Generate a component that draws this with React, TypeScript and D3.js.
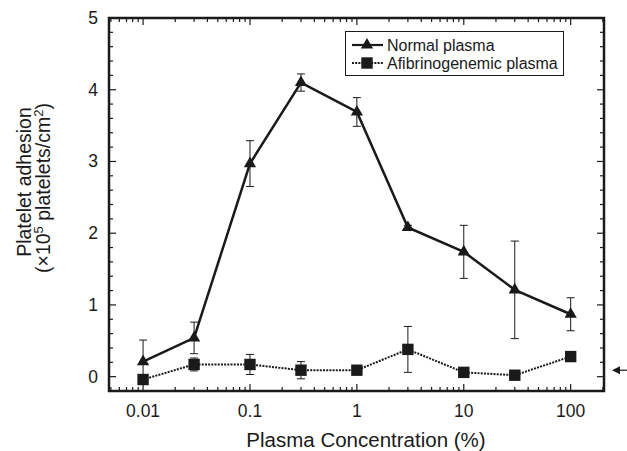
import { useEffect, useRef } from 'react';
import * as d3 from 'd3';

const concentrations = [0.01, 0.03, 0.1, 0.3, 1, 3, 10, 30, 100];
const normalMean = [0.21, 0.54, 2.97, 4.1, 3.69, 2.08, 1.74, 1.21, 0.87];
const normalErr = [0.3, 0.22, 0.32, 0.12, 0.2, 0.03, 0.37, 0.68, 0.23];
const afibMean = [-0.04, 0.17, 0.17, 0.09, 0.09, 0.38, 0.06, 0.02, 0.28];
const afibErr = [0, 0.09, 0.14, 0.12, 0.03, 0.32, 0, 0, 0];
const xTickValues = [0.01, 0.1, 1, 10, 100];
const xTickLabels = ['0.01', '0.1', '1', '10', '100'];
const yTickValues = [0, 1, 2, 3, 4, 5];
const seriesNames = ['Normal plasma', 'Afibrinogenemic plasma'];
const baselineArrow = 0.09;

const App = () => {
  const ref = useRef(null);

  useEffect(() => {
    if (!ref.current) return;
    const width = 627, height = 451;
    const left = 109, right = 604, top = 18, bottom = 391;
    const font = '"Liberation Sans", Arial, sans-serif';
    const ink = '#1a1a1a';

    d3.select(ref.current).selectAll('svg').remove();
    const svg = d3.select(ref.current)
      .append('svg')
      .attr('width', width)
      .attr('height', height)
      .style('position', 'absolute')
      .style('left', 0)
      .style('top', 0)
      .style('background', '#fff');

    const x = d3.scaleLog().domain([0.0048, 205]).range([left, right]);
    const y = d3.scaleLinear().domain([-0.2, 5]).range([bottom, top]);

    // minor / major ticks, drawn inward on all four sides
    const minorX = [];
    for (let e = -3; e <= 2; e++) {
      for (let m = 1; m < 10; m++) {
        const v = m * Math.pow(10, e);
        if (v >= x.domain()[0] && v <= x.domain()[1]) minorX.push(v);
      }
    }
    const ticks = svg.append('g').attr('stroke', ink);
    minorX.forEach(v => {
      const major = xTickValues.includes(v);
      const len = major ? 7 : 4;
      ticks.append('line').attr('x1', x(v)).attr('x2', x(v))
        .attr('y1', bottom).attr('y2', bottom - len).attr('stroke-width', 1.2);
      ticks.append('line').attr('x1', x(v)).attr('x2', x(v))
        .attr('y1', top).attr('y2', top + len).attr('stroke-width', 1.2);
    });
    d3.range(0, 51, 2).map(d => d / 10).forEach(v => {
      const major = Number.isInteger(v);
      const len = major ? 7 : 4;
      ticks.append('line').attr('x1', left).attr('x2', left + len)
        .attr('y1', y(v)).attr('y2', y(v)).attr('stroke-width', 1.2);
      ticks.append('line').attr('x1', right).attr('x2', right - len)
        .attr('y1', y(v)).attr('y2', y(v)).attr('stroke-width', 1.2);
    });

    svg.append('rect')
      .attr('x', left).attr('y', top)
      .attr('width', right - left).attr('height', bottom - top)
      .attr('fill', 'none').attr('stroke', ink).attr('stroke-width', 2.5);

    // tick labels
    svg.append('g').selectAll('text')
      .data(xTickValues)
      .join('text')
      .attr('x', d => x(d))
      .attr('y', 416.5)
      .attr('text-anchor', 'middle')
      .attr('font-family', font).attr('font-size', 17.5).attr('fill', ink)
      .text((d, i) => xTickLabels[i]);

    svg.append('g').selectAll('text')
      .data(yTickValues)
      .join('text')
      .attr('x', 98)
      .attr('y', d => y(d) + 6)
      .attr('text-anchor', 'end')
      .attr('font-family', font).attr('font-size', 17.5).attr('fill', ink)
      .text(d => d);

    // axis titles
    svg.append('text')
      .attr('x', 366).attr('y', 447)
      .attr('text-anchor', 'middle')
      .attr('font-family', font).attr('font-size', 20.5).attr('fill', ink)
      .text('Plasma Concentration (%)');

    svg.append('text')
      .attr('transform', 'translate(31,182) rotate(-90)')
      .attr('text-anchor', 'middle')
      .attr('font-family', font).attr('font-size', 19.5).attr('fill', ink)
      .text('Platelet adhesion');
    const t2 = svg.append('text')
      .attr('transform', 'translate(50,188) rotate(-90)')
      .attr('text-anchor', 'middle')
      .attr('font-family', font).attr('font-size', 19.5).attr('fill', ink);
    t2.append('tspan').text('(\u00d710');
    t2.append('tspan').attr('font-size', 13).attr('dy', -7).text('5');
    t2.append('tspan').attr('dy', 7).text(' platelets/cm');
    t2.append('tspan').attr('font-size', 13).attr('dy', -7).text('2');
    t2.append('tspan').attr('dy', 7).text(')');

    const normal = concentrations.map((c, i) => ({ c, v: normalMean[i], e: normalErr[i] }));
    const afib = concentrations.map((c, i) => ({ c, v: afibMean[i], e: afibErr[i] }));

    const drawErr = (data) => {
      const g = svg.append('g').attr('stroke', ink).attr('stroke-width', 1);
      data.filter(d => d.e > 0).forEach(d => {
        const cx = x(d.c);
        g.append('line').attr('x1', cx).attr('x2', cx).attr('y1', y(d.v - d.e)).attr('y2', y(d.v + d.e));
        g.append('line').attr('x1', cx - 4).attr('x2', cx + 4).attr('y1', y(d.v - d.e)).attr('y2', y(d.v - d.e));
        g.append('line').attr('x1', cx - 4).attr('x2', cx + 4).attr('y1', y(d.v + d.e)).attr('y2', y(d.v + d.e));
      });
    };
    drawErr(normal);
    drawErr(afib);

    const line = d3.line().x(d => x(d.c)).y(d => y(d.v));
    svg.append('path').datum(afib)
      .attr('fill', 'none').attr('stroke', ink).attr('stroke-width', 2)
      .attr('stroke-dasharray', '2,1.2').attr('d', line);
    svg.append('path').datum(normal)
      .attr('fill', 'none').attr('stroke', ink).attr('stroke-width', 2.5).attr('d', line);

    const tri = d3.symbol().type(d3.symbolTriangle).size(65);
    const sq = d3.symbol().type(d3.symbolSquare).size(130);
    svg.append('g').selectAll('path').data(normal).join('path')
      .attr('transform', d => `translate(${x(d.c)},${y(d.v)})`)
      .attr('d', tri).attr('fill', ink);
    svg.append('g').selectAll('path').data(afib).join('path')
      .attr('transform', d => `translate(${x(d.c)},${y(d.v)})`)
      .attr('d', sq).attr('fill', ink);

    // legend
    const lg = svg.append('g');
    lg.append('rect').attr('x', 345.5).attr('y', 31.5).attr('width', 218).attr('height', 44)
      .attr('fill', '#fff').attr('stroke', ink).attr('stroke-width', 1);
    [0, 1].forEach(i => {
      const ly = 45 + i * 18;
      lg.append('line').attr('x1', 352).attr('x2', 383).attr('y1', ly).attr('y2', ly)
        .attr('stroke', ink).attr('stroke-width', i === 0 ? 2.2 : 2)
        .attr('stroke-dasharray', i === 0 ? null : '2,1.2');
      lg.append('path').attr('transform', `translate(367,${ly})`)
        .attr('d', i === 0 ? tri : sq).attr('fill', ink);
      lg.append('text').attr('x', 387).attr('y', ly + 5.5)
        .attr('font-family', font).attr('font-size', 16).attr('fill', ink)
        .text(seriesNames[i]);
    });

    // baseline arrow on the right
    const ay = y(baselineArrow);
    svg.append('line').attr('x1', 614).attr('x2', 627).attr('y1', ay).attr('y2', ay)
      .attr('stroke', ink).attr('stroke-width', 1.2);
    svg.append('path')
      .attr('d', `M612,${ay} L620,${ay - 4} L620,${ay + 4} Z`)
      .attr('fill', ink);
  }, []);

  return <div ref={ref} />;
};

export default App;
